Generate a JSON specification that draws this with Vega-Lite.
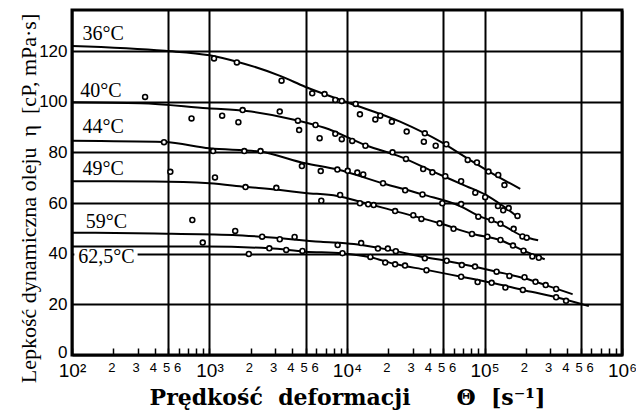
{
  "$schema": "https://vega.github.io/schema/vega-lite/v6.json",
  "width": 550,
  "height": 345,
  "autosize": {"type": "none"},
  "padding": {"left": 72, "top": 10, "right": 14, "bottom": 56},
  "background": "white",
  "config": {"view": {"stroke": "black", "strokeWidth": 3}},
  "datasets": {
    "curves": [
      {"T": "36", "theta": 100, "eta": 122.0}, {"T": "36", "theta": 475, "eta": 120.1}, {"T": "36", "theta": 1000, "eta": 118.3}, {"T": "36", "theta": 1585, "eta": 115.8}, {"T": "36", "theta": 3296, "eta": 110.1}, {"T": "36", "theta": 4955, "eta": 105.9}, {"T": "36", "theta": 10000, "eta": 99.8}, {"T": "36", "theta": 24322, "eta": 92.1}, {"T": "36", "theta": 48529, "eta": 84.0}, {"T": "36", "theta": 75509, "eta": 77.5}, {"T": "36", "theta": 107152, "eta": 72.5}, {"T": "36", "theta": 181970, "eta": 65.6},
      {"T": "40", "theta": 100, "eta": 99.8}, {"T": "40", "theta": 316, "eta": 99.4}, {"T": "40", "theta": 966, "eta": 97.4}, {"T": "40", "theta": 1862, "eta": 96.3}, {"T": "40", "theta": 4207, "eta": 92.8}, {"T": "40", "theta": 6871, "eta": 89.7}, {"T": "40", "theta": 13996, "eta": 82.6}, {"T": "40", "theta": 24322, "eta": 78.3}, {"T": "40", "theta": 42267, "eta": 72.4}, {"T": "40", "theta": 73451, "eta": 66.7}, {"T": "40", "theta": 102094, "eta": 63.2}, {"T": "40", "theta": 134896, "eta": 59.0}, {"T": "40", "theta": 176198, "eta": 54.3},
      {"T": "44", "theta": 100, "eta": 84.6}, {"T": "44", "theta": 467, "eta": 84.1}, {"T": "44", "theta": 1000, "eta": 81.6}, {"T": "44", "theta": 2312, "eta": 80.3}, {"T": "44", "theta": 4955, "eta": 75.7}, {"T": "44", "theta": 8511, "eta": 73.2}, {"T": "44", "theta": 18197, "eta": 67.8}, {"T": "44", "theta": 35237, "eta": 63.4}, {"T": "44", "theta": 67608, "eta": 58.6}, {"T": "44", "theta": 90157, "eta": 55.0}, {"T": "44", "theta": 130617, "eta": 51.7}, {"T": "44", "theta": 188799, "eta": 47.0}, {"T": "44", "theta": 245471, "eta": 45.3},
      {"T": "49", "theta": 100, "eta": 68.6}, {"T": "49", "theta": 398, "eta": 68.5}, {"T": "49", "theta": 1000, "eta": 67.8}, {"T": "49", "theta": 1820, "eta": 66.4}, {"T": "49", "theta": 3162, "eta": 65.2}, {"T": "49", "theta": 4955, "eta": 64.0}, {"T": "49", "theta": 8511, "eta": 62.8}, {"T": "49", "theta": 11220, "eta": 61.2}, {"T": "49", "theta": 22387, "eta": 56.8}, {"T": "49", "theta": 47206, "eta": 52.0}, {"T": "49", "theta": 81096, "eta": 47.9}, {"T": "49", "theta": 130617, "eta": 45.3}, {"T": "49", "theta": 192309, "eta": 41.2}, {"T": "49", "theta": 274157, "eta": 37.8},
      {"T": "59", "theta": 100, "eta": 48.3}, {"T": "59", "theta": 398, "eta": 48.0}, {"T": "59", "theta": 1479, "eta": 47.4}, {"T": "59", "theta": 2399, "eta": 46.7}, {"T": "59", "theta": 6457, "eta": 44.7}, {"T": "59", "theta": 11220, "eta": 43.8}, {"T": "59", "theta": 19953, "eta": 41.6}, {"T": "59", "theta": 36813, "eta": 38.6}, {"T": "59", "theta": 53456, "eta": 37.1}, {"T": "59", "theta": 85310, "eta": 34.8}, {"T": "59", "theta": 122462, "eta": 32.9}, {"T": "59", "theta": 195434, "eta": 30.3}, {"T": "59", "theta": 278612, "eta": 27.6}, {"T": "59", "theta": 437522, "eta": 24.0},
      {"T": "62.5", "theta": 100, "eta": 42.8}, {"T": "62.5", "theta": 966, "eta": 42.8}, {"T": "62.5", "theta": 2723, "eta": 42.1}, {"T": "62.5", "theta": 4955, "eta": 40.8}, {"T": "62.5", "theta": 9268, "eta": 40.1}, {"T": "62.5", "theta": 14791, "eta": 38.6}, {"T": "62.5", "theta": 22387, "eta": 35.9}, {"T": "62.5", "theta": 37844, "eta": 33.6}, {"T": "62.5", "theta": 67608, "eta": 30.9}, {"T": "62.5", "theta": 112720, "eta": 28.5}, {"T": "62.5", "theta": 190108, "eta": 25.7}, {"T": "62.5", "theta": 331894, "eta": 22.8}, {"T": "62.5", "theta": 574116, "eta": 19.3}
    ],
    "pts": [
      {"T": "36", "theta": 1079, "eta": 117.1}, {"T": "36", "theta": 1581, "eta": 115.5}, {"T": "36", "theta": 3342, "eta": 108.3}, {"T": "36", "theta": 5585, "eta": 103.3}, {"T": "36", "theta": 6871, "eta": 103.0}, {"T": "36", "theta": 8222, "eta": 100.7}, {"T": "36", "theta": 9162, "eta": 100.3}, {"T": "36", "theta": 11561, "eta": 99.1}, {"T": "36", "theta": 12417, "eta": 95.0}, {"T": "36", "theta": 16069, "eta": 93.0}, {"T": "36", "theta": 17458, "eta": 94.5}, {"T": "36", "theta": 21184, "eta": 92.1}, {"T": "36", "theta": 27164, "eta": 88.2}, {"T": "36", "theta": 36813, "eta": 87.5}, {"T": "36", "theta": 36224, "eta": 84.2}, {"T": "36", "theta": 44157, "eta": 82.6}, {"T": "36", "theta": 52723, "eta": 83.2}, {"T": "36", "theta": 75509, "eta": 77.0}, {"T": "36", "theta": 88105, "eta": 76.0}, {"T": "36", "theta": 106905, "eta": 72.4}, {"T": "36", "theta": 125893, "eta": 71.1}, {"T": "36", "theta": 139637, "eta": 67.1},
      {"T": "40", "theta": 340, "eta": 101.9}, {"T": "40", "theta": 740, "eta": 93.4}, {"T": "40", "theta": 1236, "eta": 94.5}, {"T": "40", "theta": 1622, "eta": 91.9}, {"T": "40", "theta": 1742, "eta": 96.7}, {"T": "40", "theta": 3243, "eta": 96.1}, {"T": "40", "theta": 4395, "eta": 92.5}, {"T": "40", "theta": 4487, "eta": 88.8}, {"T": "40", "theta": 5902, "eta": 90.8}, {"T": "40", "theta": 6324, "eta": 85.6}, {"T": "40", "theta": 8222, "eta": 87.3}, {"T": "40", "theta": 9162, "eta": 85.2}, {"T": "40", "theta": 10914, "eta": 84.5}, {"T": "40", "theta": 13614, "eta": 82.6}, {"T": "40", "theta": 21429, "eta": 80.0}, {"T": "40", "theta": 26853, "eta": 77.4}, {"T": "40", "theta": 35810, "eta": 73.4}, {"T": "40", "theta": 41783, "eta": 72.1}, {"T": "40", "theta": 51880, "eta": 70.6}, {"T": "40", "theta": 67608, "eta": 68.6}, {"T": "40", "theta": 85704, "eta": 64.1}, {"T": "40", "theta": 101158, "eta": 62.3}, {"T": "40", "theta": 125314, "eta": 58.8}, {"T": "40", "theta": 136773, "eta": 57.1}, {"T": "40", "theta": 149968, "eta": 58.0}, {"T": "40", "theta": 173780, "eta": 54.9},
      {"T": "44", "theta": 467, "eta": 84.0}, {"T": "44", "theta": 1062, "eta": 80.5}, {"T": "44", "theta": 1791, "eta": 80.5}, {"T": "44", "theta": 2350, "eta": 80.5}, {"T": "44", "theta": 4699, "eta": 74.6}, {"T": "44", "theta": 6442, "eta": 72.6}, {"T": "44", "theta": 8511, "eta": 73.2}, {"T": "44", "theta": 10116, "eta": 72.7}, {"T": "44", "theta": 11885, "eta": 72.0}, {"T": "44", "theta": 13122, "eta": 71.3}, {"T": "44", "theta": 18281, "eta": 67.8}, {"T": "44", "theta": 26485, "eta": 65.0}, {"T": "44", "theta": 35400, "eta": 63.4}, {"T": "44", "theta": 49317, "eta": 59.9}, {"T": "44", "theta": 67608, "eta": 59.6}, {"T": "44", "theta": 90157, "eta": 54.6}, {"T": "44", "theta": 112202, "eta": 53.3}, {"T": "44", "theta": 130617, "eta": 51.8}, {"T": "44", "theta": 162930, "eta": 49.8}, {"T": "44", "theta": 188799, "eta": 46.8}, {"T": "44", "theta": 202768, "eta": 46.3},
      {"T": "49", "theta": 519, "eta": 72.3}, {"T": "49", "theta": 1096, "eta": 70.1}, {"T": "49", "theta": 1828, "eta": 66.3}, {"T": "49", "theta": 3062, "eta": 66.0}, {"T": "49", "theta": 6501, "eta": 60.9}, {"T": "49", "theta": 8913, "eta": 63.2}, {"T": "49", "theta": 12417, "eta": 59.9}, {"T": "49", "theta": 14256, "eta": 59.5}, {"T": "49", "theta": 15631, "eta": 59.2}, {"T": "49", "theta": 22387, "eta": 56.8}, {"T": "49", "theta": 30339, "eta": 55.2}, {"T": "49", "theta": 34754, "eta": 53.7}, {"T": "49", "theta": 47206, "eta": 52.0}, {"T": "49", "theta": 59566, "eta": 49.8}, {"T": "49", "theta": 81096, "eta": 47.8}, {"T": "49", "theta": 104954, "eta": 46.7}, {"T": "49", "theta": 130617, "eta": 45.4}, {"T": "49", "theta": 161065, "eta": 43.2}, {"T": "49", "theta": 192309, "eta": 41.2}, {"T": "49", "theta": 222844, "eta": 38.9}, {"T": "49", "theta": 248313, "eta": 38.4},
      {"T": "59", "theta": 750, "eta": 53.3}, {"T": "59", "theta": 1538, "eta": 49.0}, {"T": "59", "theta": 2415, "eta": 46.7}, {"T": "59", "theta": 3243, "eta": 45.7}, {"T": "59", "theta": 4159, "eta": 46.6}, {"T": "59", "theta": 8551, "eta": 43.4}, {"T": "59", "theta": 12677, "eta": 44.2}, {"T": "59", "theta": 16788, "eta": 42.0}, {"T": "59", "theta": 19815, "eta": 42.0}, {"T": "59", "theta": 22646, "eta": 41.0}, {"T": "59", "theta": 36813, "eta": 38.2}, {"T": "59", "theta": 53088, "eta": 37.2}, {"T": "59", "theta": 68391, "eta": 35.5}, {"T": "59", "theta": 85310, "eta": 34.9}, {"T": "59", "theta": 122462, "eta": 32.9}, {"T": "59", "theta": 151705, "eta": 31.2}, {"T": "59", "theta": 195434, "eta": 30.7}, {"T": "59", "theta": 234963, "eta": 28.9}, {"T": "59", "theta": 278612, "eta": 27.6}, {"T": "59", "theta": 331894, "eta": 26.1},
      {"T": "62.5", "theta": 893, "eta": 44.4}, {"T": "62.5", "theta": 1932, "eta": 39.9}, {"T": "62.5", "theta": 2723, "eta": 42.1}, {"T": "62.5", "theta": 3614, "eta": 41.5}, {"T": "62.5", "theta": 4742, "eta": 41.1}, {"T": "62.5", "theta": 9268, "eta": 40.2}, {"T": "62.5", "theta": 14791, "eta": 38.7}, {"T": "62.5", "theta": 18967, "eta": 36.5}, {"T": "62.5", "theta": 22387, "eta": 35.8}, {"T": "62.5", "theta": 26424, "eta": 35.3}, {"T": "62.5", "theta": 37844, "eta": 33.5}, {"T": "62.5", "theta": 67608, "eta": 30.9}, {"T": "62.5", "theta": 89125, "eta": 28.8}, {"T": "62.5", "theta": 112720, "eta": 28.5}, {"T": "62.5", "theta": 141906, "eta": 26.6}, {"T": "62.5", "theta": 190108, "eta": 25.7}, {"T": "62.5", "theta": 331894, "eta": 22.8}, {"T": "62.5", "theta": 391742, "eta": 21.4}
    ],
    "labels": [
      {"label": "36°C", "theta": 119, "eta": 126.7},
      {"label": "40°C", "theta": 115, "eta": 104.2},
      {"label": "44°C", "theta": 119, "eta": 90.0},
      {"label": "49°C", "theta": 119, "eta": 73.4},
      {"label": "59°C", "theta": 126, "eta": 52.6},
      {"label": "62,5°C", "theta": 111, "eta": 38.6}
    ],
    "boxes": [
      {"theta": 104, "theta2": 300, "eta": 35.8, "eta2": 41.6}
    ]
  },
  "encoding": {
    "x": {
      "field": "theta",
      "type": "quantitative",
      "scale": {"type": "log", "domain": [100, 1000000], "nice": false},
      "axis": {
        "values": [100, 200, 300, 400, 500, 600, 700, 800, 900, 1000, 2000, 3000, 4000, 5000, 6000, 7000, 8000, 9000, 10000, 20000, 30000, 40000, 50000, 60000, 70000, 80000, 90000, 100000, 200000, 300000, 400000, 500000, 600000, 700000, 800000, 900000, 1000000],
        "labelExpr": "datum.value == 100 ? '10²' : datum.value == 1000 ? '10³' : datum.value == 10000 ? '10⁴' : datum.value == 100000 ? '10⁵' : datum.value == 1000000 ? '10⁶' : (indexof(['2','3','4','5','6'], slice(toString(datum.value), 0, 1)) >= 0 ? slice(toString(datum.value), 0, 1) : '')",
        "labelFont": "Liberation Sans",
        "labelColor": "black",
        "labelFontSize": {"condition": {"test": "indexof([100,1000,10000,100000,1000000], datum.value) >= 0", "value": 19}, "value": 13},
        "labelOffset": {"condition": {"test": "indexof([100,1000,10000,100000,1000000], datum.value) >= 0", "value": 0}, "value": -2},
        "labelPadding": 13,
        "labelFlush": false,
        "labelOverlap": false,
        "labelBound": false,
        "ticks": true,
        "tickSize": -7,
        "tickColor": "black",
        "tickWidth": 1.5,
        "domain": false,
        "grid": true,
        "gridColor": "black",
        "gridWidth": 2,
        "gridOpacity": {"condition": {"test": "slice(toString(datum.value), 0, 1) == '1' || slice(toString(datum.value), 0, 1) == '5'", "value": 1}, "value": 0},
        "title": "Prędkość\u00a0\u00a0deformacji\u00a0\u00a0\u00a0\u00a0\u00a0\u00a0Θ\u00a0\u00a0[s⁻¹]",
        "titleFont": "DejaVu Serif",
        "titleFontWeight": "bold",
        "titleFontSize": 22,
        "titleColor": "black",
        "titleY": 49,
        "titleBaseline": "alphabetic"
      }
    },
    "y": {
      "field": "eta",
      "type": "quantitative",
      "scale": {"domain": [0, 136.2], "nice": false, "zero": true},
      "axis": {
        "values": [0, 20, 40, 60, 80, 100, 120],
        "labelFont": "Liberation Sans",
        "labelFontSize": 17,
        "labelColor": "black",
        "labelPadding": 5,
        "labelOffset": {"condition": {"test": "datum.value == 0", "value": -3}, "value": 0},
        "ticks": false,
        "domain": false,
        "grid": true,
        "gridColor": "black",
        "gridWidth": 2,
        "title": "Lepkość dynamiczna oleju\u00a0\u00a0η\u00a0\u00a0[cP, mPa·s]",
        "titleFont": "Liberation Serif",
        "titleFontSize": 22,
        "titleFontWeight": "normal",
        "titleColor": "black",
        "titleAngle": -90,
        "titleX": -32,
        "titleY": 188,
        "titleBaseline": "bottom"
      }
    }
  },
  "layer": [
    {
      "data": {"name": "boxes"},
      "mark": {"type": "rect", "fill": "white", "stroke": null},
      "encoding": {"x2": {"field": "theta2"}, "y2": {"field": "eta2"}}
    },
    {
      "data": {"name": "curves"},
      "mark": {"type": "line", "color": "black", "strokeWidth": 2, "interpolate": "monotone"},
      "encoding": {"detail": {"field": "T", "type": "nominal"}}
    },
    {
      "data": {"name": "pts"},
      "mark": {"type": "point", "shape": "circle", "filled": true, "fill": "white", "stroke": "black", "strokeWidth": 1.6, "size": 24, "opacity": 1}
    },
    {
      "data": {"name": "labels"},
      "mark": {"type": "text", "align": "left", "baseline": "middle", "font": "Liberation Serif", "fontSize": 20, "color": "black"},
      "encoding": {"text": {"field": "label"}}
    }
  ]
}
